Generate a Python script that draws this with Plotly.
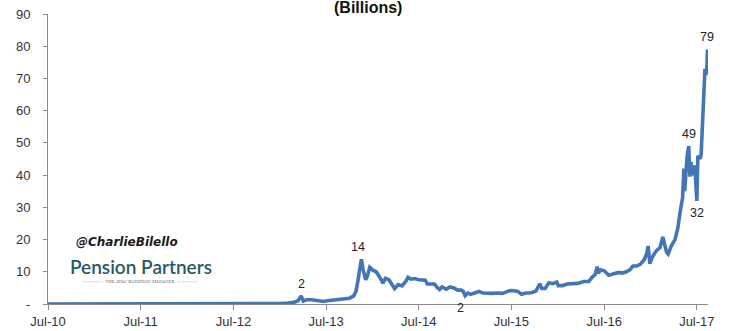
import plotly.graph_objects as go

# ---------------- data ----------------
dates = [
    "2010-07-01", "2010-10-01", "2011-01-01", "2011-02-10", "2011-04-10", "2011-05-10",
    "2011-05-28", "2011-06-10", "2011-07-20", "2011-09-01", "2011-11-01", "2012-01-01",
    "2012-03-01", "2012-05-01", "2012-08-01", "2012-10-01", "2012-12-01", "2013-01-01",
    "2013-02-01", "2013-02-25", "2013-03-12", "2013-03-25", "2013-04-02", "2013-04-15",
    "2013-05-05", "2013-06-01", "2013-06-22", "2013-07-05", "2013-08-01", "2013-09-01",
    "2013-10-01", "2013-10-18", "2013-10-27", "2013-11-04", "2013-11-09", "2013-11-17",
    "2013-11-23", "2013-12-04", "2013-12-10", "2013-12-20", "2014-01-01", "2014-01-14",
    "2014-01-27", "2014-02-10", "2014-02-20", "2014-03-06", "2014-03-22", "2014-03-28",
    "2014-04-11", "2014-04-26", "2014-05-11", "2014-05-20", "2014-06-01", "2014-06-16",
    "2014-07-01", "2014-07-16", "2014-07-27", "2014-08-04", "2014-08-18", "2014-09-01",
    "2014-09-11", "2014-09-21", "2014-10-01", "2014-10-18", "2014-11-01", "2014-11-17",
    "2014-12-01", "2014-12-16", "2014-12-24", "2014-12-31", "2015-01-11", "2015-01-22",
    "2015-02-06", "2015-02-24", "2015-03-11", "2015-04-01", "2015-04-17", "2015-05-06",
    "2015-05-27", "2015-06-17", "2015-06-28", "2015-07-11", "2015-07-27", "2015-08-10",
    "2015-08-27", "2015-09-17", "2015-10-06", "2015-10-21", "2015-10-29", "2015-11-11",
    "2015-11-26", "2015-12-11", "2015-12-27", "2016-01-02", "2016-01-18", "2016-02-06",
    "2016-02-25", "2016-03-18", "2016-04-11", "2016-05-01", "2016-05-17", "2016-05-27",
    "2016-06-03", "2016-06-08", "2016-06-17", "2016-07-01", "2016-07-19", "2016-08-06",
    "2016-08-27", "2016-09-11", "2016-09-26", "2016-10-11", "2016-10-22", "2016-11-06",
    "2016-11-21", "2016-12-06", "2016-12-16", "2016-12-21", "2016-12-28", "2017-01-06",
    "2017-01-22", "2017-02-06", "2017-02-17", "2017-02-24", "2017-03-04", "2017-03-10",
    "2017-03-22", "2017-04-06", "2017-04-17", "2017-04-26", "2017-05-06", "2017-05-11",
    "2017-05-14", "2017-05-24", "2017-05-30", "2017-06-04", "2017-06-08", "2017-06-14",
    "2017-06-20", "2017-06-25", "2017-07-01", "2017-07-05", "2017-07-14", "2017-07-18",
    "2017-07-22", "2017-07-26", "2017-07-30", "2017-08-02", "2017-08-05", "2017-08-09",
    "2017-08-12",
]
market_cap_bn = [
    0.0003, 0.0004, 0.002, 0.006, 0.007, 0.05,
    0.2, 0.12, 0.09, 0.04, 0.02, 0.05,
    0.04, 0.05, 0.12, 0.12, 0.13, 0.16,
    0.3, 0.5, 1.0, 2.5, 0.9, 1.3,
    1.3, 1.1, 0.8, 1.0, 1.2, 1.4,
    1.8, 2.5, 4.0, 7.5, 9.5, 13.9,
    11.0, 7.5, 8.5, 11.4, 10.5, 10.0,
    8.5, 6.5, 8.0, 7.5, 5.5, 4.8,
    6.0, 5.6, 7.0, 8.3, 7.7, 7.9,
    7.5, 7.6, 7.4, 6.2, 6.3, 6.2,
    5.2, 4.5, 5.3, 4.6, 5.3, 5.0,
    4.3, 4.3, 3.9, 2.6, 3.4, 3.0,
    3.4, 3.9, 3.4, 3.2, 3.3, 3.4,
    3.3, 3.9, 4.2, 4.1, 3.9, 3.0,
    3.4, 3.5, 4.0, 6.3, 4.8, 4.8,
    6.6, 6.3, 6.8, 5.7, 5.7, 6.2,
    6.3, 6.4, 7.0, 7.0, 8.5, 9.2,
    11.6, 9.5, 10.6, 10.3, 8.9, 9.4,
    9.8, 9.6, 10.0, 10.7, 11.8, 11.8,
    12.4, 13.8, 15.8, 18.0, 12.5, 14.5,
    16.5, 17.5, 20.8, 18.5, 16.0, 15.5,
    18.0, 20.0, 23.5, 28.5, 33.0, 42.0,
    35.0, 46.0, 49.0, 39.5, 44.0, 40.0,
    43.0, 40.0, 32.0, 46.0, 45.0, 46.5,
    53.0, 56.0, 67.0, 73.0, 71.0, 72.5,
    79.0,
]

# point labels: date of the labelled point, its text, and whether it sits above the line
label_dates = ["2013-03-25", "2013-11-17", "2014-12-31", "2017-05-30", "2017-07-01", "2017-08-12"]
label_texts = ["2", "14", "2", "49", "32", "79"]
label_above = [True, True, False, True, False, True]

y_tick_vals = [0, 10, 20, 30, 40, 50, 60, 70, 80, 90]
y_tick_text = ["-", "10", "20", "30", "40", "50", "60", "70", "80", "90"]

LINE_BLUE = "#4375B7"
AXIS_GREY = "#8A8A8A"
TEXT_COL = "#333333"

fig = go.Figure()
fig.add_trace(go.Scatter(
    x=dates, y=market_cap_bn, mode="lines",
    line=dict(color=LINE_BLUE, width=3.6),
    hoverinfo="skip", showlegend=False,
))

annotations = []
for d, t, above in zip(label_dates, label_texts, label_above):
    v = market_cap_bn[dates.index(d)]
    annotations.append(dict(
        x=d, y=v, xref="x", yref="y", text=t, showarrow=False,
        yanchor="bottom" if above else "top",
        yshift=3 if above else -3,
        xshift=-3 if t in ("14",) else (-5 if (t == "2" and not above) else 0),
        font=dict(family="Liberation Sans, Arial", size=12.5, color="#222222"),
    ))

# title remnant at the very top
annotations.append(dict(
    x=0.485, y=1.0, xref="paper", yref="paper", text="<b>(Billions)</b>",
    showarrow=False, xanchor="center", yanchor="bottom", yshift=-4,
    font=dict(family="Liberation Sans, Arial", size=16, color="#111111"),
))
# watermarks
annotations.append(dict(
    x=0.04, y=0.215, xref="paper", yref="paper", text="<b><i>@CharlieBilello</i></b>",
    showarrow=False, xanchor="left", yanchor="middle",
    font=dict(family="DejaVu Sans, sans-serif", size=12, color="#1a1a1a"),
))
annotations.append(dict(
    x=0.030, y=0.131, xref="paper", yref="paper", text="Pension Partners",
    showarrow=False, xanchor="left", yanchor="middle",
    font=dict(family="Lato, Liberation Sans, Arial", size=19, color="#2A5868", weight=600),
))
annotations.append(dict(
    x=0.030 + 0.109, y=0.076, xref="paper", yref="paper",
    text="\u2014\u2014\u2014\u2014\u2014  THE ATAC ROTATION MANAGER  \u2014\u2014\u2014\u2014\u2014",
    showarrow=False, xanchor="center", yanchor="middle",
    font=dict(family="DejaVu Serif, serif", size=4, color="#666666"),
))

fig.update_layout(
    template="none",
    width=729, height=331,
    margin=dict(l=48, r=21, t=14, b=27, pad=0),
    paper_bgcolor="white", plot_bgcolor="white",
    annotations=annotations,
    xaxis=dict(
        type="date", range=["2010-07-01", "2017-08-14"], automargin=False,
        tick0="2010-07-01", dtick="M12", tickformat="%b-%y",
        ticks="outside", ticklen=5, tickcolor=AXIS_GREY, tickwidth=1,
        showline=True, linecolor=AXIS_GREY, linewidth=1,
        showgrid=False, zeroline=False, layer="below traces",
        tickfont=dict(family="Liberation Sans, Arial", size=13, color=TEXT_COL),
    ),
    yaxis=dict(
        range=[0, 90], tickvals=y_tick_vals, ticktext=y_tick_text, automargin=False,
        ticks="outside", ticklen=4, tickcolor=AXIS_GREY, tickwidth=1,
        showline=True, linecolor=AXIS_GREY, linewidth=1,
        showgrid=False, zeroline=False, ticklabelstandoff=10,
        tickfont=dict(family="Liberation Sans, Arial", size=13, color=TEXT_COL),
    ),
)

fig.write_html("out.html")
